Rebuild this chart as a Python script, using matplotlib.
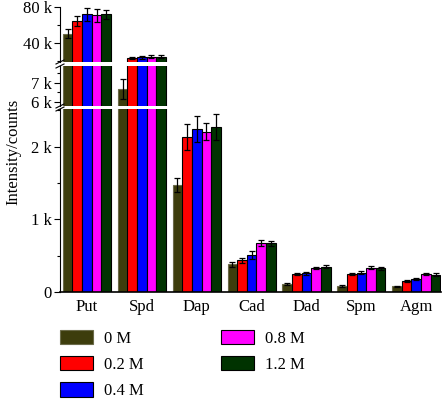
import numpy as np
import matplotlib
matplotlib.use('Agg')
import matplotlib.pyplot as plt
from matplotlib.ticker import MultipleLocator, FuncFormatter

plt.rcParams['font.family'] = ['Liberation Serif', 'DejaVu Serif']
plt.rcParams['font.size'] = 12

# data (counts)
compounds = ['Put', 'Spd', 'Dap', 'Cad', 'Dad', 'Spm', 'Agm']
labels = ['0 M', '0.2 M', '0.4 M', '0.8 M', '1.2 M']
colors = ['#3d3d0c', '#ff0000', '#0000ff', '#ff00ff', '#003300']
edges = ['#6b6b4a', 'black', 'black', 'black', 'black']

v_0 = [50300, 6660, 1475, 385, 105, 83, 78]
v_02 = [64000, 23200, 2130, 435, 250, 245, 147]
v_04 = [72000, 24000, 2240, 510, 260, 265, 175]
v_08 = [70700, 24800, 2210, 680, 330, 335, 247]
v_12 = [71800, 24800, 2270, 670, 350, 325, 240]

e_0 = [5000, 500, 100, 35, 15, 10, 10]
e_02 = [5500, 1200, 180, 40, 15, 15, 15]
e_04 = [7000, 1500, 180, 50, 20, 20, 15]
e_08 = [7000, 1800, 120, 40, 20, 25, 15]
e_12 = [5000, 1500, 180, 35, 20, 20, 15]

values = [v_0, v_02, v_04, v_08, v_12]
errors = [e_0, e_02, e_04, e_08, e_12]

W, H = 444, 405
fig = plt.figure(figsize=(W / 100, H / 100), dpi=100)

def px_axes(x0, y0, x1, y1):
    return fig.add_axes([x0 / W, 1 - y1 / H, (x1 - x0) / W, (y1 - y0) / H])

ax_top = px_axes(60, 7, 441, 62)
ax_mid = px_axes(60, 66, 441, 106)
ax_bot = px_axes(60, 109, 441, 292)

x = np.arange(len(compounds))
bw = 0.175
fmt = FuncFormatter(lambda v, p: '0' if v == 0 else '%d k' % round(v / 1000))

for ax in [ax_top, ax_mid, ax_bot]:
    for i in range(5):
        ax.bar(x + (i - 2) * bw, values[i], bw, color=colors[i], edgecolor=edges[i],
               linewidth=0.8, yerr=errors[i], capsize=2.5,
               error_kw=dict(ecolor='black', elinewidth=0.9, capthick=0.9))
    ax.set_xlim(-0.49, 6.45)
    ax.spines['top'].set_visible(False)
    ax.spines['right'].set_visible(False)
    ax.yaxis.set_major_formatter(fmt)
    ax.tick_params(axis='y', direction='out', length=4, width=0.8, labelsize=12, pad=2)
    ax.tick_params(axis='y', which='minor', length=2.5, width=0.8)
    ax.spines['left'].set_linewidth(0.8)

for ax in [ax_top, ax_mid]:
    ax.spines['bottom'].set_visible(False)
    ax.set_xticks([])

ax_top.set_ylim(19000, 80000)
ax_top.yaxis.set_major_locator(MultipleLocator(40000))
ax_top.yaxis.set_minor_locator(MultipleLocator(20000))

ax_mid.set_ylim(5800, 7850)
ax_mid.yaxis.set_major_locator(MultipleLocator(1000))
ax_mid.yaxis.set_minor_locator(MultipleLocator(500))

ax_bot.set_ylim(0, 2520)
ax_bot.yaxis.set_major_locator(MultipleLocator(1000))
ax_bot.yaxis.set_minor_locator(MultipleLocator(500))
ax_bot.set_xticks(x)
ax_bot.set_xticklabels(compounds)
ax_bot.tick_params(axis='x', length=0, labelsize=12, pad=5)
ax_bot.spines['bottom'].set_linewidth(1.2)

# break marks on the left axis
for yb in [62, 66, 106, 109]:
    fig.add_artist(plt.Line2D([(56) / W, (64) / W], [1 - (yb + 2) / H, 1 - (yb - 2) / H],
                              color='black', linewidth=0.8))

fig.text(13 / W, 1 - 152 / H, 'Intensity/counts', rotation=90, ha='center', va='center',
         fontsize=12)

handles = [plt.Rectangle((0, 0), 1, 1, facecolor=colors[i], edgecolor=edges[i], linewidth=0.8)
           for i in range(5)]
fig.legend(handles, labels, loc='upper left', bbox_to_anchor=(45 / W, 1 - 315 / H),
           ncol=2, frameon=False, fontsize=12, handlelength=2.0, handleheight=0.95,
           handletextpad=0.65, labelspacing=0.55, columnspacing=4.6)

fig.savefig('out.png', dpi=100)
